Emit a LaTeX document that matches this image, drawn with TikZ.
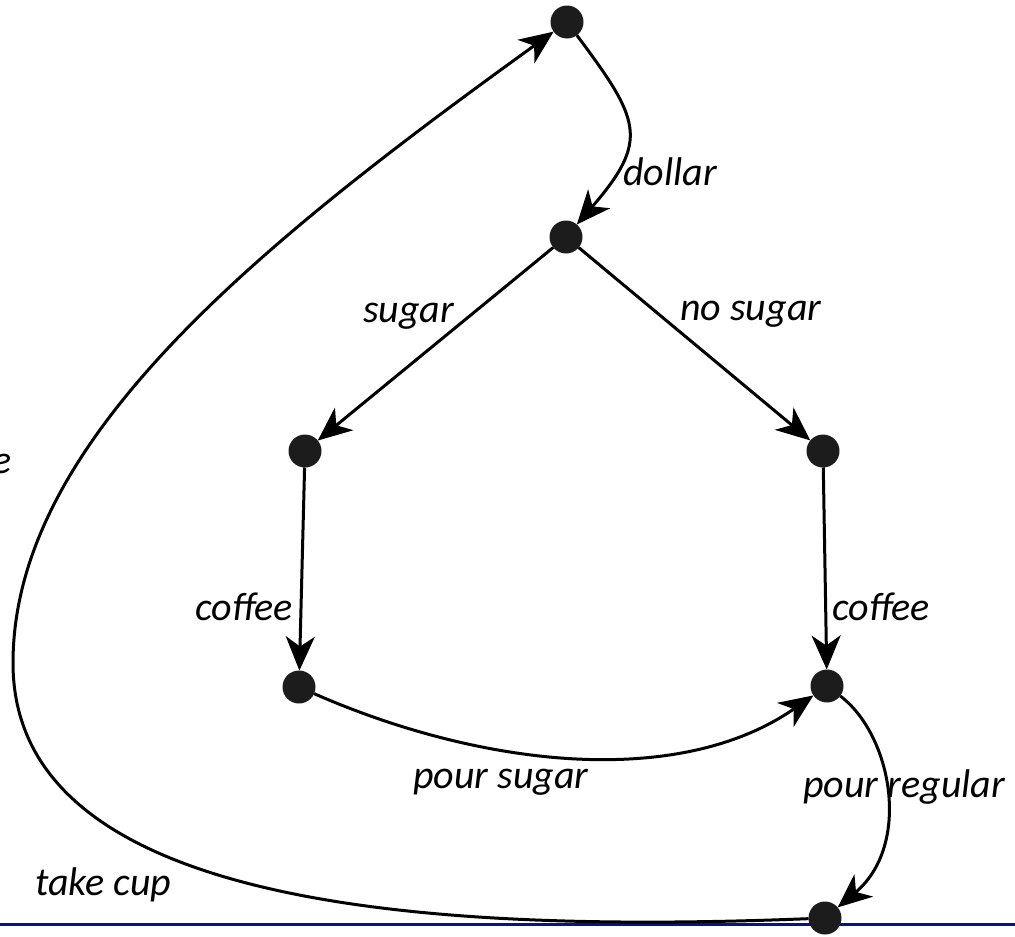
\documentclass[tikz,border=0pt]{standalone}
\usepackage{fontspec}
\setmainfont{Carlito}
\usetikzlibrary{arrows.meta}
\definecolor{dotgray}{RGB}{28,28,28}
\definecolor{rulenavy}{RGB}{0,22,140}
\begin{document}
\begin{tikzpicture}[x=1pt,y=-1pt,
  state/.style={circle,fill=dotgray,minimum size=33pt,inner sep=0pt,outer sep=0pt},
  edge/.style={line width=3pt,-{Stealth[length=34pt,width=29pt,inset=10pt]}},
  lbl/.style={font=\fontsize{40}{48}\selectfont\itshape,inner sep=0pt,anchor=base west},
  rule/.style={line width=3pt,draw=rulenavy}]
\useasboundingbox (0,0) rectangle (1015,937);
\coordinate (rl) at (0,924);
\coordinate (rr) at (1015,924);
\draw[rule] (rl) -- (rr);
\node[state] (s0) at (567,22) {};
\node[state] (s1) at (566,237) {};
\node[state] (s2) at (305,451) {};
\node[state] (s3) at (823,451) {};
\node[state] (s4) at (299,687) {};
\node[state] (s5) at (827,686) {};
\node[state] (s6) at (825,918) {};
\coordinate (w) at (13,663);
\draw[edge] (s0) .. controls (640,120) and (650,140) .. (s1);
\draw[edge] (s1) -- (s2);
\draw[edge] (s1) -- (s3);
\draw[edge] (s2) -- (s4);
\draw[edge] (s3) -- (s5);
\draw[edge] (s4) .. controls (479,766) and (677,790) .. (s5);
\draw[edge] (s5) .. controls (892,735) and (912,845) .. (s6);
\draw[edge] (s6) .. controls (400,935) and (13,900) .. (w) .. controls (13,440) and (262,242) .. (s0);
\node[lbl] (l1) at (623,185) {dollar};
\node[lbl] (l2) at (363,322) {sugar};
\node[lbl] (l3) at (680,320) {no sugar};
\node[lbl] (l4) at (195,620) {coffee};
\node[lbl] (l5) at (832,620) {coffee};
\node[lbl] (l6) at (413,788) {pour sugar};
\node[lbl] (l7) at (803,797) {pour regular};
\node[lbl] (l8) at (35,895) {take cup};
\node[lbl,anchor=base east] (l9) at (12,473) {e};
\end{tikzpicture}
\end{document}
